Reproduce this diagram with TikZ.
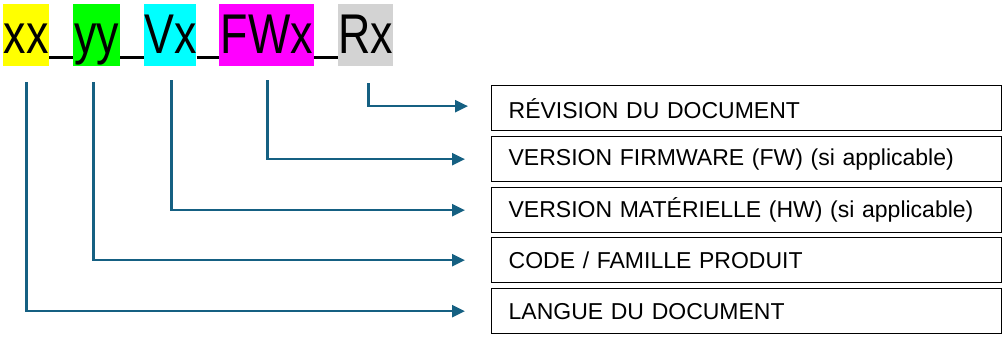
\documentclass[tikz,border=0pt]{standalone}
\usepackage{fontspec}
\usepackage{graphicx}
\setmainfont{Liberation Sans}
\usetikzlibrary{arrows.meta,positioning}
\definecolor{conncol}{HTML}{156082}
\definecolor{tagyellow}{HTML}{FFFF00}
\definecolor{taggreen}{HTML}{00FF00}
\definecolor{tagcyan}{HTML}{00FFFF}
\definecolor{tagmagenta}{HTML}{FF00FF}
\definecolor{taggrey}{HTML}{D3D3D3}
\tikzset{
  tag/.style={inner sep=0pt, text height=49pt, text depth=13pt,
    font=\fontsize{56}{60}\selectfont, anchor=north west},
  sep/.style={draw=black, line width=2.2pt},
  label box/.style={draw=black, line width=1.3pt, anchor=north west,
    minimum width=510pt, minimum height=45pt, inner xsep=17pt, inner ysep=0pt,
    text width=476pt, align=left, font=\fontsize{23}{26}\selectfont},
  conn/.style={draw=conncol, line width=2.6pt,
    -{Triangle[length=13pt,width=12pt]}},
}
\newcommand{\cond}[1]{\scalebox{0.8}[1]{#1}}
\begin{document}
\begin{tikzpicture}[x=1pt,y=-1pt]
\useasboundingbox (0,0) rectangle (1004,341);
% top tags
\node[tag, fill=tagyellow, minimum width=46pt] (xx) at (3,4) {\cond{xx}};
\node[tag, fill=taggreen, minimum width=47pt] (yy) at (73,4) {\cond{yy}};
\node[tag, fill=tagcyan, minimum width=52pt] (vx) at (144,4) {\cond{Vx}};
\node[tag, fill=tagmagenta, minimum width=95pt] (fwx) at (219,4) {\cond{FWx}};
\node[tag, fill=taggrey, minimum width=54pt] (rx) at (338,4) {\cond{Rx}};
% underscores
\draw[sep] ([yshift=9pt]xx.south east) -- ([yshift=9pt]yy.south west);
\draw[sep] ([yshift=9pt]yy.south east) -- ([yshift=9pt]vx.south west);
\draw[sep] ([yshift=9pt]vx.south east) -- ([yshift=9pt]fwx.south west);
\draw[sep] ([yshift=9pt]fwx.south east) -- ([yshift=9pt]rx.south west);
% label boxes
\node[label box] (rev) at (491,85) {RÉVISION DU DOCUMENT};
\node[label box] (fw) at (491,136) {VERSION FIRMWARE (FW) (si applicable)};
\node[label box] (hw) at (491,187) {VERSION MATÉRIELLE (HW) (si applicable)};
\node[label box] (code) at (491,237) {CODE / FAMILLE PRODUIT};
\node[label box] (lang) at (491,288) {LANGUE DU DOCUMENT};
% connectors
\draw[conn] ([yshift=-16pt]xx.south) |- ([xshift=-26pt]lang.west);
\draw[conn] ([xshift=-3pt,yshift=-16pt]yy.south) |- ([xshift=-26pt]code.west);
\draw[conn] ([xshift=1pt,yshift=-14pt]vx.south) |- ([xshift=-26pt]hw.west);
\draw[conn] ([xshift=1pt,yshift=-14pt]fwx.south) |- ([xshift=-26pt]fw.west);
\draw[conn] ([xshift=3pt,yshift=-17pt]rx.south) |- ([xshift=-23pt,yshift=2pt]rev.west);
\end{tikzpicture}
\end{document}
